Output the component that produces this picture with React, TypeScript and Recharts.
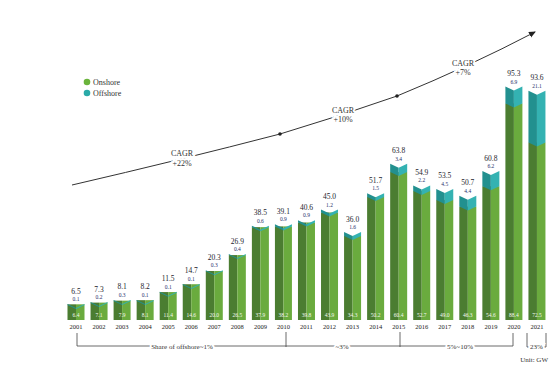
import React from "react";
import { ComposedChart, Bar, XAxis, YAxis, LabelList } from "recharts";

const years = ["2001", "2002", "2003", "2004", "2005", "2006", "2007", "2008", "2009", "2010", "2011", "2012", "2013", "2014", "2015", "2016", "2017", "2018", "2019", "2020", "2021"];
const onshore = [6.4, 7.1, 7.9, 8.1, 11.4, 14.6, 20.0, 26.5, 37.9, 38.2, 39.8, 43.9, 34.3, 50.2, 60.4, 52.7, 49.0, 46.3, 54.6, 88.4, 72.5];
const offshore = [0.1, 0.2, 0.3, 0.1, 0.1, 0.1, 0.3, 0.4, 0.6, 0.9, 0.9, 1.2, 1.6, 1.5, 3.4, 2.2, 4.5, 4.4, 6.2, 6.9, 21.1];
const totals = [6.5, 7.3, 8.1, 8.2, 11.5, 14.7, 20.3, 26.9, 38.5, 39.1, 40.6, 45.0, 36.0, 51.7, 63.8, 54.9, 53.5, 50.7, 60.8, 95.3, 93.6];

const data = years.map((year, i) => ({
  year,
  onshore: onshore[i],
  offshore: offshore[i],
  total: totals[i],
}));

const FONT = "'Liberation Serif', 'Times New Roman', serif";
const NOTCH = 4;

// left half darker, right half lighter -> flat 3D look
function OnshoreShape(props: any) {
  const { x, y, width, height } = props;
  const half = width / 2;
  return (
    <g>
      <rect x={x} y={y} width={half} height={height} fill="#4b7d31" />
      <rect x={x + half} y={y} width={width - half} height={height} fill="#6aab3e" />
    </g>
  );
}

// teal band with a V notch cut into the top
function OffshoreShape(props: any) {
  const { x, y, width, height } = props;
  const h = Math.max(height, 1);
  const cx = x + width / 2;
  const left = `${x},${y} ${cx},${y + NOTCH} ${cx},${y + h + NOTCH} ${x},${y + h}`;
  const right = `${cx},${y + NOTCH} ${x + width},${y} ${x + width},${y + h} ${cx},${y + h + NOTCH}`;
  return (
    <g>
      <polygon points={left} fill="#22908f" />
      <polygon points={right} fill="#34b2b2" />
    </g>
  );
}

const totalLabel = (props: any) => {
  const { x, y, width, value } = props;
  return (
    <text x={x + width / 2} y={y - 13} textAnchor="middle" dominantBaseline="central" fontSize={7.5} fill="#1c1c2c" fontFamily={FONT}>
      {Number(value).toFixed(1)}
    </text>
  );
};

const offshoreLabel = (props: any) => {
  const { x, y, width, value } = props;
  return (
    <text x={x + width / 2} y={y - 5} textAnchor="middle" dominantBaseline="central" fontSize={5.5} fill="#27306a" fontFamily={FONT}>
      {Number(value).toFixed(1)}
    </text>
  );
};

const onshoreLabel = (props: any) => {
  const { x, y, width, height, value } = props;
  return (
    <text x={x + width / 2} y={y + height - 5} textAnchor="middle" dominantBaseline="central" fontSize={5.5} fill="#f4f8ee" fontFamily={FONT}>
      {Number(value).toFixed(1)}
    </text>
  );
};

function Overlay() {
  const txt = { fontFamily: FONT, fill: "#333" };
  const mask = { stroke: "#fff", strokeWidth: 4, paintOrder: "stroke" as const };
  return (
    <svg width={559} height={367} style={{ position: "absolute", left: 0, top: 0, pointerEvents: "none" }}>
      <defs>
        <marker id="ah" markerWidth="8" markerHeight="8" refX="6" refY="3" orient="auto" markerUnits="userSpaceOnUse">
          <path d="M0,0 L7,3 L0,6 Z" fill="#222" />
        </marker>
      </defs>
      {/* CAGR arrow */}
      <path d="M72,185 Q180,160 280,134 Q340,116 397,96 Q470,66 535,32" fill="none" stroke="#333" strokeWidth={1} markerEnd="url(#ah)" />
      <circle cx={280} cy={134} r={1.8} fill="#222" />
      <circle cx={397} cy={96} r={1.8} fill="#222" />
      <g fontSize={8} textAnchor="middle" {...txt}>
        <text x={182} y={156} {...mask}>CAGR</text>
        <text x={182} y={166} {...mask}>+22%</text>
        <text x={343} y={113} {...mask}>CAGR</text>
        <text x={343} y={122} {...mask}>+10%</text>
        <text x={463} y={66} {...mask}>CAGR</text>
        <text x={463} y={75} {...mask}>+7%</text>
      </g>

      {/* legend */}
      <circle cx={87} cy={82} r={3.3} fill="#6ab43c" />
      <text x={93} y={85} fontSize={8} {...txt}>Onshore</text>
      <circle cx={87} cy={93} r={3.3} fill="#2aaaa8" />
      <text x={93} y={96} fontSize={8} {...txt}>Offshore</text>

      {/* offshore share brackets */}
      <g stroke="#444" strokeWidth={0.8} fill="none">
        <path d="M77,333 V346 H513 V333" />
        <path d="M286,332 V347" />
        <path d="M400,332 V347" />
        <path d="M527,333 V347 H546 V333" />
      </g>
      <g fontSize={7} textAnchor="middle" {...txt}>
        <text x={182} y={348.5} {...mask}>Share of offshore~1%</text>
        <text x={342} y={348.5} {...mask}>~3%</text>
        <text x={460} y={348.5} {...mask}>5%~10%</text>
        <text x={536.5} y={348.5} {...mask}>23%</text>
      </g>
      <text x={548} y={362} fontSize={7} textAnchor="end" {...txt}>Unit: GW</text>
    </svg>
  );
}

export default function App() {
  return (
    <div style={{ position: "relative", width: 559, height: 367, background: "#fff" }}>
      <style>{"body{margin:0}"}</style>
      <ComposedChart width={559} height={367} data={data} margin={{ top: 75, right: 10.5, bottom: 27, left: 64.5 }} barSize={17}>
        <XAxis
          dataKey="year"
          interval={0}
          axisLine={false}
          tickLine={false}
          tickSize={0}
          tickMargin={4}
          height={20}
          tick={{ fontSize: 6.5, fill: "#222", fontFamily: FONT }}
        />
        <YAxis hide domain={[0, 100]} allowDataOverflow />
        <Bar dataKey="onshore" stackId="a" shape={OnshoreShape} isAnimationActive={false}>
          <LabelList dataKey="onshore" content={onshoreLabel} />
        </Bar>
        <Bar dataKey="offshore" stackId="a" shape={OffshoreShape} isAnimationActive={false}>
          <LabelList dataKey="total" content={totalLabel} />
          <LabelList dataKey="offshore" content={offshoreLabel} />
        </Bar>
      </ComposedChart>
      <Overlay />
    </div>
  );
}
